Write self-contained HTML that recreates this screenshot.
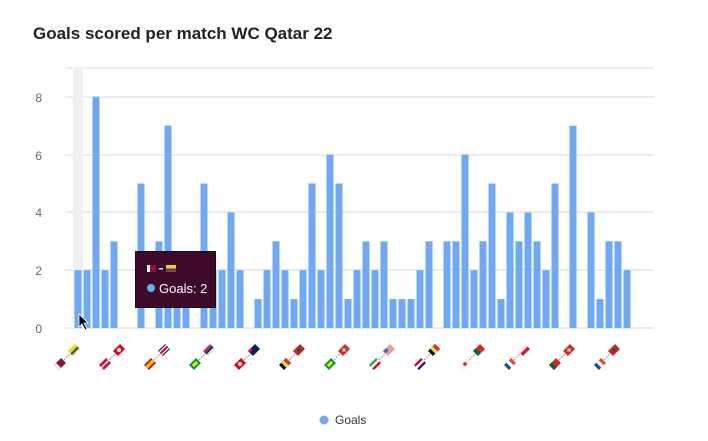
<!DOCTYPE html>
<html><head><meta charset="utf-8"><style>
body{margin:0;background:#fff;}
svg{display:block;font-family:"Liberation Sans",sans-serif;}
</style></head><body>
<svg width="708" height="441" viewBox="0 0 708 441" xmlns="http://www.w3.org/2000/svg">
<rect width="708" height="441" fill="#fff"/>
<text x="33" y="39" font-size="17" font-weight="bold" fill="#222">Goals scored per match WC Qatar 22</text>
<g stroke="#e6e6e6" stroke-width="1.5">
<line x1="65" x2="654" y1="68" y2="68"/>
<line x1="65" x2="654" y1="97" y2="97"/>
<line x1="65" x2="654" y1="155" y2="155"/>
<line x1="65" x2="654" y1="212" y2="212"/>
<line x1="65" x2="654" y1="270" y2="270"/>
<line x1="65" x2="654" y1="328" y2="328"/>
</g>
<g font-size="12" fill="#666" text-anchor="end">
<text x="42" y="102">8</text><text x="42" y="160">6</text><text x="42" y="217">4</text><text x="42" y="275">2</text><text x="42" y="333">0</text>
</g>
<rect x="73" y="67" width="10" height="261" fill="#f0f0f0"/>
<g fill="#6fa8f5">
<rect x="74.5" y="270.2" width="7" height="57.8"/>
<rect x="83.5" y="270.2" width="7" height="57.8"/>
<rect x="92.5" y="96.8" width="7" height="231.2"/>
<rect x="101.5" y="270.2" width="7" height="57.8"/>
<rect x="110.5" y="241.3" width="7" height="86.7"/>
<rect x="137.5" y="183.5" width="7" height="144.5"/>
<rect x="155.5" y="241.3" width="7" height="86.7"/>
<rect x="164.5" y="125.7" width="7" height="202.3"/>
<rect x="173.5" y="270.2" width="7" height="57.8"/>
<rect x="182.5" y="270.2" width="7" height="57.8"/>
<rect x="200.5" y="183.5" width="7" height="144.5"/>
<rect x="209.5" y="270.2" width="7" height="57.8"/>
<rect x="218.5" y="270.2" width="7" height="57.8"/>
<rect x="227.5" y="212.4" width="7" height="115.6"/>
<rect x="236.5" y="270.2" width="7" height="57.8"/>
<rect x="254.5" y="299.1" width="7" height="28.9"/>
<rect x="263.5" y="270.2" width="7" height="57.8"/>
<rect x="272.5" y="241.3" width="7" height="86.7"/>
<rect x="281.5" y="270.2" width="7" height="57.8"/>
<rect x="290.5" y="299.1" width="7" height="28.9"/>
<rect x="299.5" y="270.2" width="7" height="57.8"/>
<rect x="308.5" y="183.5" width="7" height="144.5"/>
<rect x="317.5" y="270.2" width="7" height="57.8"/>
<rect x="326.5" y="154.6" width="7" height="173.4"/>
<rect x="335.5" y="183.5" width="7" height="144.5"/>
<rect x="344.5" y="299.1" width="7" height="28.9"/>
<rect x="353.5" y="270.2" width="7" height="57.8"/>
<rect x="362.5" y="241.3" width="7" height="86.7"/>
<rect x="371.5" y="270.2" width="7" height="57.8"/>
<rect x="380.5" y="241.3" width="7" height="86.7"/>
<rect x="389.5" y="299.1" width="7" height="28.9"/>
<rect x="398.5" y="299.1" width="7" height="28.9"/>
<rect x="407.5" y="299.1" width="7" height="28.9"/>
<rect x="416.5" y="270.2" width="7" height="57.8"/>
<rect x="425.5" y="241.3" width="7" height="86.7"/>
<rect x="443.5" y="241.3" width="7" height="86.7"/>
<rect x="452.5" y="241.3" width="7" height="86.7"/>
<rect x="461.5" y="154.6" width="7" height="173.4"/>
<rect x="470.5" y="270.2" width="7" height="57.8"/>
<rect x="479.5" y="241.3" width="7" height="86.7"/>
<rect x="488.5" y="183.5" width="7" height="144.5"/>
<rect x="497.5" y="299.1" width="7" height="28.9"/>
<rect x="506.5" y="212.4" width="7" height="115.6"/>
<rect x="515.5" y="241.3" width="7" height="86.7"/>
<rect x="524.5" y="212.4" width="7" height="115.6"/>
<rect x="533.5" y="241.3" width="7" height="86.7"/>
<rect x="542.5" y="270.2" width="7" height="57.8"/>
<rect x="551.5" y="183.5" width="7" height="144.5"/>
<rect x="569.5" y="125.7" width="7" height="202.3"/>
<rect x="587.5" y="212.4" width="7" height="115.6"/>
<rect x="596.5" y="299.1" width="7" height="28.9"/>
<rect x="605.5" y="241.3" width="7" height="86.7"/>
<rect x="614.5" y="241.3" width="7" height="86.7"/>
<rect x="623.5" y="270.2" width="7" height="57.8"/>
</g>
<g stroke="#999" stroke-width="1" stroke-dasharray="2,1">
<line x1="64" y1="360" x2="70" y2="354"/><line x1="109" y1="360" x2="115" y2="354"/><line x1="154" y1="360" x2="160" y2="354"/><line x1="199" y1="360" x2="205" y2="354"/><line x1="244" y1="360" x2="250" y2="354"/><line x1="289" y1="360" x2="295" y2="354"/><line x1="334" y1="360" x2="340" y2="354"/><line x1="379" y1="360" x2="385" y2="354"/><line x1="424" y1="360" x2="430" y2="354"/><line x1="469" y1="360" x2="475" y2="354"/><line x1="514" y1="360" x2="520" y2="354"/><line x1="559" y1="360" x2="565" y2="354"/><line x1="604" y1="360" x2="610" y2="354"/>
</g>
<g>
<g transform="translate(60,364) rotate(-45)"><rect x="-5" y="-3.5" width="10" height="7" fill="#8a1538"/><rect x="-5" y="-3.5" width="3" height="7" fill="#eee"/></g>
<g transform="translate(74,350) rotate(-45)"><rect x="-5" y="-3.5" width="10" height="7" fill="#f5d20c"/><rect x="-5" y="0" width="10" height="2" fill="#1a4fa0"/></g>
<g transform="translate(105,364) rotate(-45)"><rect x="-5" y="-3.5" width="10" height="7" fill="#d21034"/><rect x="-5" y="-0.7" width="10" height="1.4" fill="#fff"/></g>
<g transform="translate(119,350) rotate(-45)"><rect x="-5" y="-3.5" width="10" height="7" fill="#e70013"/><circle r="2" fill="#fff"/></g>
<g transform="translate(150,364) rotate(-45)"><rect x="-5" y="-3.5" width="10" height="7" fill="#c60b1e"/><rect x="-5" y="-1.7" width="10" height="3.4" fill="#f1bf00"/></g>
<g transform="translate(164,350) rotate(-45)"><rect x="-5" y="-3.5" width="10" height="7" fill="#002b7f"/><rect x="-5" y="-2.3" width="10" height="4.6" fill="#fff"/><rect x="-5" y="-1.1" width="10" height="2.2" fill="#ce1126"/></g>
<g transform="translate(195,364) rotate(-45)"><rect x="-5" y="-3.5" width="10" height="7" fill="#009b3a"/><rect x="-3" y="-1.5" width="6" height="3" fill="#fedf00"/></g>
<g transform="translate(209,350) rotate(-45)"><rect x="-5" y="-3.5" width="10" height="7" fill="#c6363c"/><rect x="-5" y="-1" width="10" height="2.5" fill="#0c4076"/><rect x="-5" y="1.5" width="10" height="2" fill="#eee"/></g>
<g transform="translate(240,364) rotate(-45)"><rect x="-5" y="-3.5" width="10" height="7" fill="#e70013"/><circle r="2" fill="#fff"/></g>
<g transform="translate(254,350) rotate(-45)"><rect x="-5" y="-3.5" width="10" height="7" fill="#012169"/><rect x="-5" y="-3.5" width="4" height="3" fill="#c8102e"/></g>
<g transform="translate(285,364) rotate(-45)"><rect x="-5" y="-3.5" width="10" height="7" fill="#111"/><rect x="-1.7" y="-3.5" width="3.4" height="7" fill="#fae042"/><rect x="1.7" y="-3.5" width="3.3" height="7" fill="#ed2939"/></g>
<g transform="translate(299,350) rotate(-45)"><rect x="-5" y="-3.5" width="10" height="7" fill="#c1272d"/><circle r="1.5" fill="#006233"/></g>
<g transform="translate(330,364) rotate(-45)"><rect x="-5" y="-3.5" width="10" height="7" fill="#009b3a"/><rect x="-3" y="-1.5" width="6" height="3" fill="#fedf00"/></g>
<g transform="translate(344,350) rotate(-45)"><rect x="-5" y="-3.5" width="10" height="7" fill="#d52b1e"/><rect x="-2" y="-0.6" width="4" height="1.2" fill="#fff"/><rect x="-0.6" y="-2" width="1.2" height="4" fill="#fff"/></g>
<g transform="translate(375,364) rotate(-45)"><rect x="-5" y="-3.5" width="10" height="7" fill="#fff"/><rect x="-5" y="-3.5" width="10" height="2.3" fill="#239f40"/><rect x="-5" y="1.2" width="10" height="2.3" fill="#da0000"/></g>
<g transform="translate(389,350) rotate(-45)"><rect x="-5" y="-3.5" width="10" height="7" fill="#e8a0a0"/><rect x="-5" y="-3.5" width="4.5" height="3.5" fill="#3c6eb4"/></g>
<g transform="translate(420,364) rotate(-45)"><rect x="-5" y="-3.5" width="10" height="7" fill="#fff"/><rect x="-5" y="-3.5" width="10" height="2.3" fill="#d00"/><rect x="-5" y="1.2" width="10" height="2.3" fill="#171796"/></g>
<g transform="translate(434,350) rotate(-45)"><rect x="-5" y="-3.5" width="10" height="7" fill="#111"/><rect x="-1.7" y="-3.5" width="3.4" height="7" fill="#fae042"/><rect x="1.7" y="-3.5" width="3.3" height="7" fill="#ed2939"/></g>
<g transform="translate(465,364) rotate(-45)"><rect x="-5" y="-3.5" width="10" height="7" fill="#eee"/><circle r="1.8" fill="#cd2e3a"/></g>
<g transform="translate(479,350) rotate(-45)"><rect x="-5" y="-3.5" width="10" height="7" fill="#da291c"/><rect x="-5" y="-3.5" width="4" height="7" fill="#046a38"/></g>
<g transform="translate(510,364) rotate(-45)"><rect x="-5" y="-3.5" width="10" height="7" fill="#fff"/><rect x="-5" y="-3.5" width="3.3" height="7" fill="#0055a4"/><rect x="1.7" y="-3.5" width="3.3" height="7" fill="#ef4135"/></g>
<g transform="translate(524,350) rotate(-45)"><rect x="-5" y="-3.5" width="10" height="7" fill="#eee"/><rect x="-5" y="0" width="10" height="3.5" fill="#dc143c"/></g>
<g transform="translate(555,364) rotate(-45)"><rect x="-5" y="-3.5" width="10" height="7" fill="#da291c"/><rect x="-5" y="-3.5" width="4" height="7" fill="#046a38"/></g>
<g transform="translate(569,350) rotate(-45)"><rect x="-5" y="-3.5" width="10" height="7" fill="#d52b1e"/><rect x="-2" y="-0.6" width="4" height="1.2" fill="#fff"/><rect x="-0.6" y="-2" width="1.2" height="4" fill="#fff"/></g>
<g transform="translate(600,364) rotate(-45)"><rect x="-5" y="-3.5" width="10" height="7" fill="#fff"/><rect x="-5" y="-3.5" width="3.3" height="7" fill="#0055a4"/><rect x="1.7" y="-3.5" width="3.3" height="7" fill="#ef4135"/></g>
<g transform="translate(614,350) rotate(-45)"><rect x="-5" y="-3.5" width="10" height="7" fill="#c1272d"/><circle r="1.5" fill="#006233"/></g>
</g>
<rect x="135.5" y="251.5" width="80" height="56" fill="#3d0a2b" stroke="#111"/>
<rect x="147" y="265" width="9" height="7" fill="#8a1538"/><rect x="147" y="265" width="3" height="7" fill="#eee"/>
<rect x="159" y="268" width="4" height="1.5" fill="#ddd"/>
<rect x="166" y="265" width="10" height="3.5" fill="#f5d20c"/><rect x="166" y="268.5" width="10" height="2" fill="#1a4fa0"/><rect x="166" y="270.5" width="10" height="1.5" fill="#d22"/>
<circle cx="151" cy="288" r="4" fill="#6fa8f5"/>
<text x="159" y="293" font-size="13" fill="#fff">Goals: 2</text>
<path d="M79 314 L79 327 L82 324 L85 330 L87 329 L84 323 L88 323 Z" fill="#000" stroke="#fff" stroke-width="0.8"/>
<circle cx="324" cy="420" r="4.5" fill="#6fa8f5"/>
<text x="335" y="424" font-size="12" fill="#333">Goals</text>
</svg>
</body></html>
